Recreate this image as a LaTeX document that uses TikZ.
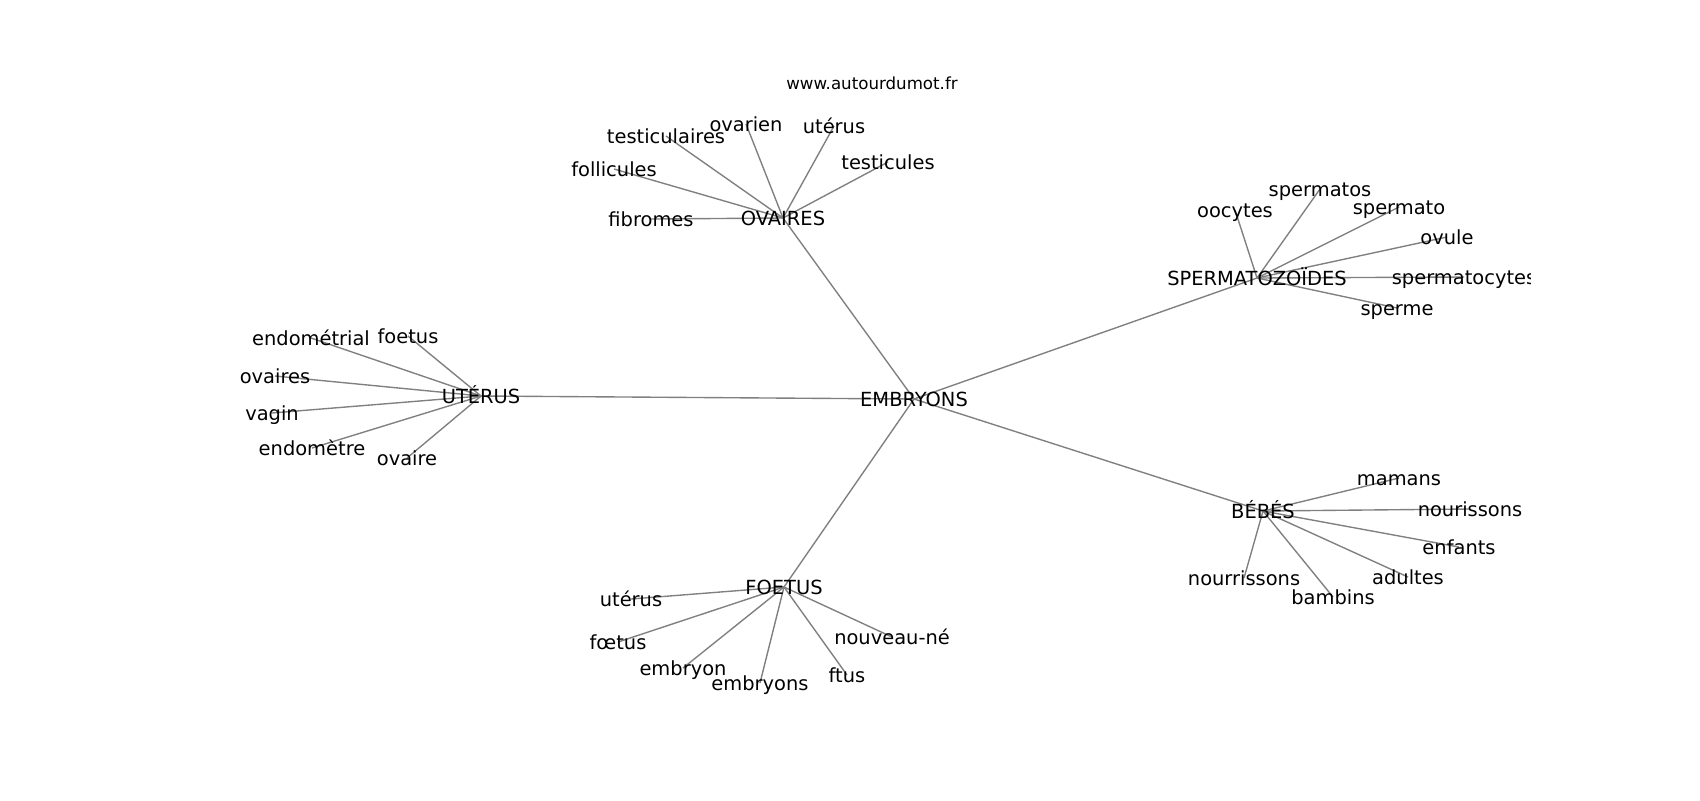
\documentclass[tikz,border=0pt]{standalone}
\usepackage{fontspec}
\setmainfont{DejaVu Sans}
\pgfdeclarelayer{back}
\pgfdeclarelayer{bg}
\pgfsetlayers{back,bg,main}
\begin{document}
\begin{tikzpicture}[x=0.5pt,y=-0.5pt,
  lbl/.style={inner sep=0pt, anchor=center, font=\fontsize{9.72pt}{11pt}\selectfont, text height=0.93em, text depth=0.208em},
  ttl/.style={inner sep=0pt, anchor=center, font=\fontsize{8.33pt}{10pt}\selectfont},
  edge/.style={draw=gray, line width=0.69pt}]
\begin{pgfonlayer}{back}
\fill[white] (0,0) rectangle (1700,800);
\end{pgfonlayer}
\useasboundingbox (0,0) rectangle (1700,800);
\node[ttl] (title) at (872,83) {www.autourdumot.fr};
\begin{scope}
\clip (212.5,96) rectangle (1530,712);
% hubs
\node[lbl] (emb) at (914,399) {EMBRYONS};
\node[lbl] (ute) at (481,396) {UTÉRUS};
\node[lbl] (ova) at (783,218) {OVAIRES};
\node[lbl] (spz) at (1257,278) {SPERMATOZOÏDES};
\node[lbl] (beb) at (1263,511) {BÉBÉS};
\node[lbl] (foe) at (784,587) {FOETUS};
% OVAIRES leaves
\node[lbl] (o1) at (666,136) {testiculaires};
\node[lbl] (o2) at (746,124) {ovarien};
\node[lbl] (o3) at (834,126) {utérus};
\node[lbl] (o4) at (888,162) {testicules};
\node[lbl] (o5) at (614,169) {follicules};
\node[lbl] (o6) at (651,219) {fibromes};
% SPERMATOZOIDES leaves
\node[lbl] (s1) at (1235,210) {oocytes};
\node[lbl] (s2) at (1320,189) {spermatos};
\node[lbl] (s3) at (1399,207) {spermato};
\node[lbl] (s4) at (1447,237) {ovule};
\node[lbl] (s5) at (1464,277) {spermatocytes};
\node[lbl] (s6) at (1397,308) {sperme};
% UTERUS leaves
\node[lbl] (u1) at (311,338) {endométrial};
\node[lbl] (u2) at (408,336) {foetus};
\node[lbl] (u3) at (275,376) {ovaires};
\node[lbl] (u4) at (272,413) {vagin};
\node[lbl] (u5) at (312,448) {endomètre};
\node[lbl] (u6) at (407,458) {ovaire};
% BEBES leaves
\node[lbl] (b1) at (1399,478) {mamans};
\node[lbl] (b2) at (1470,509) {nourissons};
\node[lbl] (b3) at (1459,547) {enfants};
\node[lbl] (b4) at (1408,577) {adultes};
\node[lbl] (b5) at (1244,578) {nourrissons};
\node[lbl] (b6) at (1333,597) {bambins};
% FOETUS leaves
\node[lbl] (f1) at (631,599) {utérus};
\node[lbl] (f2) at (618,642) {fœtus};
\node[lbl] (f3) at (683,668) {embryon};
\node[lbl] (f4) at (760,683) {embryons};
\node[lbl] (f5) at (847,675) {ftus};
\node[lbl] (f6) at (892,637) {nouveau-né};
\end{scope}
\begin{pgfonlayer}{bg}
\foreach \h in {ute,ova,spz,beb,foe} \draw[edge] (emb.center) -- (\h.center);
\foreach \l in {o1,o2,o3,o4,o5,o6} \draw[edge] (ova.center) -- (\l.center);
\foreach \l in {s1,s2,s3,s4,s5,s6} \draw[edge] (spz.center) -- (\l.center);
\foreach \l in {u1,u2,u3,u4,u5,u6} \draw[edge] (ute.center) -- (\l.center);
\foreach \l in {b1,b2,b3,b4,b5,b6} \draw[edge] (beb.center) -- (\l.center);
\foreach \l in {f1,f2,f3,f4,f5,f6} \draw[edge] (foe.center) -- (\l.center);
\end{pgfonlayer}
\end{tikzpicture}
\end{document}
